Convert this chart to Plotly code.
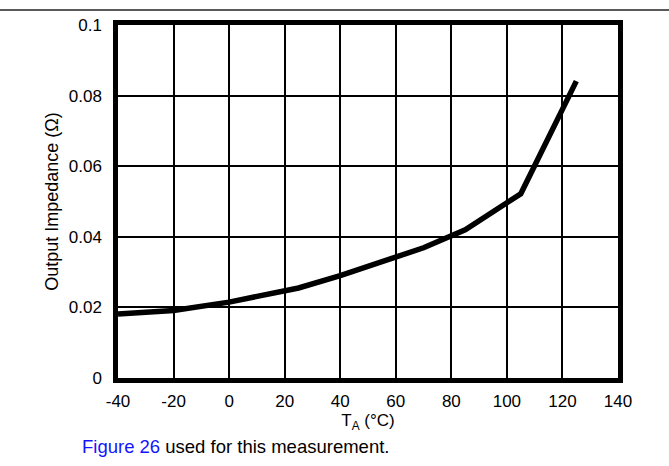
import plotly.graph_objects as go

temps = [-40, -20, 0, 25, 40, 60, 70, 85, 105, 125]
impedance = [0.0181, 0.0191, 0.0215, 0.0255, 0.0290, 0.0344, 0.0369, 0.0420, 0.0522, 0.0841]

x_ticks = [-40, -20, 0, 20, 40, 60, 80, 100, 120, 140]
x_tick_text = ["-40", "-20", "0", "20", "40", "60", "80", "100", "120", "140"]
y_ticks = [0, 0.02, 0.04, 0.06, 0.08, 0.1]
y_tick_text = ["0", "0.02", "0.04", "0.06", "0.08", "0.1"]

FONT = "Liberation Sans, Arial, sans-serif"

fig = go.Figure()
fig.add_trace(go.Scatter(x=temps, y=impedance, mode="lines",
                         line=dict(color="black", width=5.5), showlegend=False,
                         hoverinfo="skip"))

fig.update_layout(
    width=669, height=466,
    margin=dict(l=118, r=51, t=25, b=88),
    paper_bgcolor="white", plot_bgcolor="white",
    font=dict(family=FONT, size=17, color="black"),
    xaxis=dict(range=[-40, 140], tickvals=x_ticks, ticktext=x_tick_text, showgrid=True,
               gridcolor="black", gridwidth=2, showline=True, linecolor="black",
               linewidth=4.5, mirror=True, zeroline=False, ticks="", ticklabelstandoff=4,
               automargin=False,
               title=dict(text="T<sub>A</sub> (°C)", font=dict(size=17), standoff=1)),
    yaxis=dict(range=[0, 0.1], tickvals=y_ticks, ticktext=y_tick_text, showgrid=True,
               gridcolor="black", gridwidth=2, showline=True, linecolor="black",
               linewidth=4.5, mirror=True, zeroline=False, ticks="", ticklabelstandoff=8,
               automargin=False,
               title=dict(text="Output Impedance (Ω)", font=dict(size=18), standoff=7)),
)

fig.add_shape(type="line", xref="paper", yref="paper",
              x0=-118 / 500, x1=551 / 500, y0=(378 - 10) / 353, y1=(378 - 10) / 353,
              line=dict(color="#222222", width=1.5))

fig.add_annotation(xref="paper", yref="paper", x=-0.076, y=(378 - 446) / 353,
                   xanchor="left", yanchor="middle", showarrow=False,
                   text="<span style='color:#1414ff'>Figure 26</span> used for this measurement.",
                   font=dict(size=18.5, color="black"))

fig.write_html("out.html", config={"displayModeBar": False},
               post_script="document.body.style.margin='0';")
